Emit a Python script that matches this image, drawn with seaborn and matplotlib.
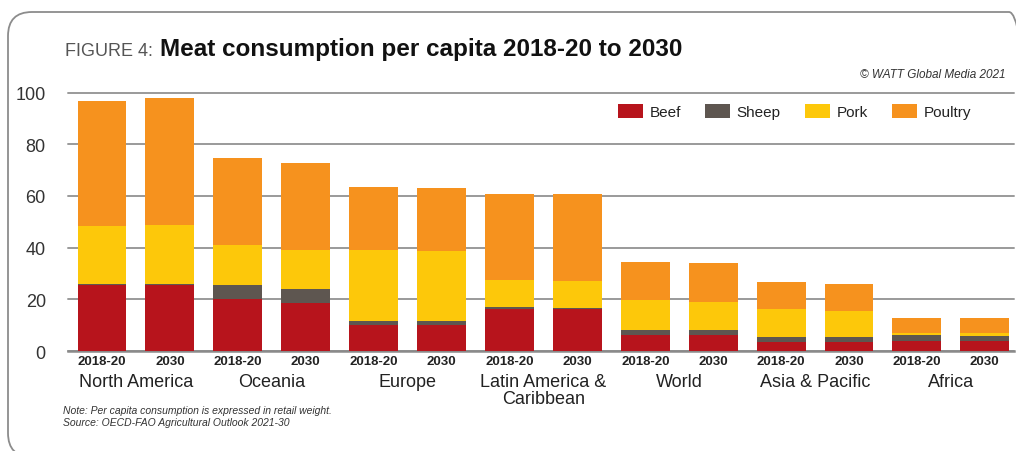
import numpy as np
import pandas as pd
import matplotlib
matplotlib.use("Agg")
import matplotlib.pyplot as plt
import seaborn as sns
from matplotlib.patches import FancyBboxPatch, Patch

# data (kg per capita, retail weight)
regions = ["North America", "Oceania", "Europe", "Latin America &\nCaribbean",
           "World", "Asia & Pacific", "Africa"]
periods = ["2018-20", "2030"]
beef = [25.4, 25.7, 20.1, 18.6, 10.2, 10.0, 16.4, 16.2, 6.3, 6.2, 3.4, 3.4, 3.9, 3.8]
sheep = [0.4, 0.4, 5.6, 5.5, 1.6, 1.5, 0.5, 0.5, 2.0, 2.0, 2.0, 2.0, 2.2, 2.0]
pork = [22.6, 22.8, 15.4, 15.1, 27.4, 27.3, 10.7, 10.5, 11.4, 10.8, 10.9, 10.1, 1.0, 1.1]
poultry = [48.5, 49.0, 33.5, 33.4, 24.3, 24.3, 33.3, 33.6, 14.7, 15.0, 10.3, 10.6, 5.8, 5.8]

meats = ["Beef", "Sheep", "Pork", "Poultry"]
colors = ["#B7141C", "#5E5650", "#FDC80A", "#F6921E"]

bar_region = [r for r in regions for p in periods]
bar_period = [p for r in regions for p in periods]
keys = [f"{r}|{p}" for r, p in zip(bar_region, bar_period)]

df = pd.DataFrame({"key": keys, "region": bar_region, "period": bar_period,
                   "Beef": beef, "Sheep": sheep, "Pork": pork, "Poultry": poultry})
cum = df[meats].cumsum(axis=1)

sns.set_style("white")
plt.rcParams["font.family"] = ["Liberation Sans", "DejaVu Sans"]

fig = plt.figure(figsize=(10.16, 4.52), dpi=100)
ax = fig.add_axes([0.067, 0.221, 0.931, 0.572])

# stacked bars: draw cumulative totals from the top layer down
for meat, col in reversed(list(zip(meats, colors))):
    sns.barplot(x=df["key"], y=cum[meat], order=keys, color=col, saturation=1,
                width=0.72, linewidth=0, ax=ax, zorder=3)

ax.set_ylim(0, 100)
ax.set_xlim(-0.5, 13.43)
ax.set_yticks([0, 20, 40, 60, 80, 100])
ax.yaxis.grid(True, color="#9A9A9A", linewidth=1.4, zorder=0)
for gl in ax.get_ygridlines():
    gl.set_clip_on(False)
ax.set_axisbelow(True)
for s in ["left", "right", "top"]:
    ax.spines[s].set_visible(False)
ax.spines["bottom"].set_color("#8A8A8A")
ax.spines["bottom"].set_linewidth(1.8)
ax.tick_params(axis="y", length=0, pad=16, labelsize=13, labelcolor="#333333")
ax.tick_params(axis="x", length=0, pad=3)
ax.set_xticks(range(len(keys)))
ax.set_xticklabels(bar_period, fontsize=9.5, fontweight="bold", color="#222222")
ax.set_xlabel("")
ax.set_ylabel("")

trans = ax.get_xaxis_transform()
for i, r in enumerate(regions):
    ax.text(2 * i + 0.5, -0.083, r, transform=trans, ha="center", va="top",
            fontsize=13, color="#222222", linespacing=1.0)

handles = [Patch(facecolor=c, edgecolor="none") for c in colors]
fig.legend(handles, meats, loc="center", bbox_to_anchor=(0.782, 0.751), ncol=4,
           frameon=False, fontsize=11, handlelength=1.6, handleheight=1.05,
           handletextpad=0.45, columnspacing=1.6, labelcolor="#222222")

# title
t1 = fig.text(0.064, 0.875, "FIGURE 4:", fontsize=13, color="#555555",
              ha="left", va="baseline")
ax.annotate("Meat consumption per capita 2018-20 to 2030", xy=(1, 0),
            xycoords=t1, xytext=(5, -0.5), textcoords="offset points",
            fontsize=17.5, fontweight="bold", color="#111111",
            ha="left", va="bottom", annotation_clip=False)
fig.text(0.99, 0.833, "\u00a9 WATT Global Media 2021", fontsize=8.5,
         style="italic", color="#333333", ha="right", va="center")

# notes
fig.text(0.062, 0.09, "Note: Per capita consumption is expressed in retail weight.",
         fontsize=7.5, style="italic", color="#333333", ha="left", va="center")
fig.text(0.062, 0.064, "Source: OECD-FAO Agricultural Outlook 2021-30",
         fontsize=7.5, style="italic", color="#333333", ha="left", va="center")

# rounded frame around the figure (right and bottom edges run off the image)
frame = FancyBboxPatch((0.08, -0.06), 10.25, 4.45,
                       boxstyle="round,pad=0,rounding_size=0.24",
                       transform=fig.dpi_scale_trans, facecolor="none",
                       edgecolor="#8C8C8C", linewidth=1.3)
fig.patches.append(frame)

fig.savefig("out.png", dpi=100)
